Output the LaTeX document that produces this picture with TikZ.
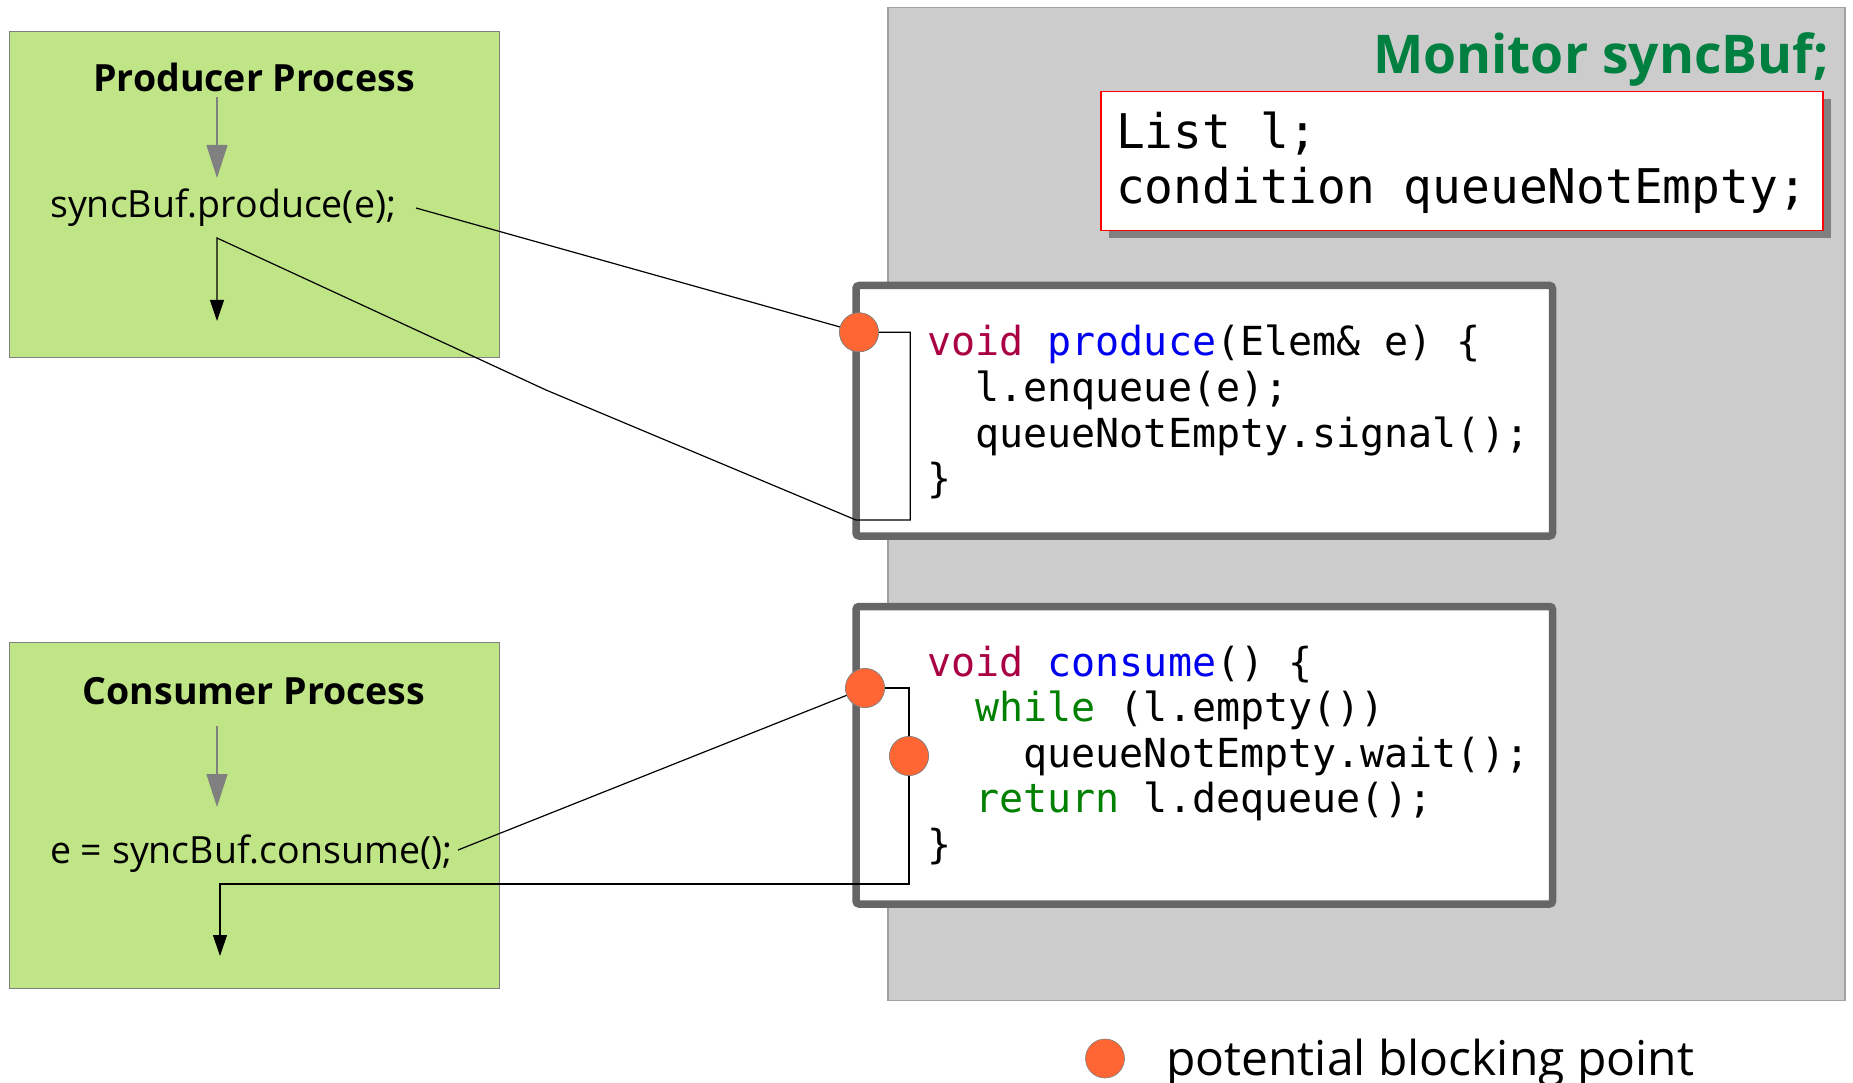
\documentclass[tikz,border=0pt]{standalone}
\usepackage{fontspec}
\setmainfont{Open Sans}
\setmonofont{DejaVu Sans Mono}
\usetikzlibrary{arrows.meta}
\definecolor{procgreen}{RGB}{192,229,134}
\definecolor{mongray}{RGB}{204,204,204}
\definecolor{monborder}{RGB}{160,160,160}
\definecolor{boxborder}{RGB}{102,102,102}
\definecolor{blockorange}{RGB}{255,102,51}
\definecolor{titlegreen}{RGB}{0,128,64}
\definecolor{kwred}{RGB}{170,0,68}
\definecolor{fnblue}{RGB}{0,0,240}
\definecolor{kwgreen}{RGB}{0,128,0}
\definecolor{shadowgray}{RGB}{128,128,128}
\tikzset{
  procbox/.style={draw=shadowgray, line width=1pt, fill=procgreen, inner sep=0},
  codebox/.style={draw=boxborder, line width=7.5pt, rounded corners=3pt, fill=white, inner sep=0},
  codeline/.style={anchor=base west, inner sep=0, font=\ttfamily\fontsize{40}{46}\selectfont},
  varline/.style={anchor=base west, inner sep=0, font=\ttfamily\fontsize{47.8}{54}\selectfont},
  proctitle/.style={anchor=base, inner sep=0, font=\bfseries\fontsize{37.5}{42}\selectfont},
  proccall/.style={anchor=base west, inner sep=0, font=\fontsize{37.5}{42}\selectfont},
  blockpt/.style={circle, fill=blockorange, draw=shadowgray, line width=0.6pt, minimum size=39pt, inner sep=0},
  grayflow/.style={draw=shadowgray, line width=1.2pt, -{Triangle[length=33pt,width=21pt]}},
  blackflow/.style={draw=black, line width=1.2pt, -{Triangle[length=21pt,width=14pt]}},
  conn/.style={draw=black, line width=1.2pt},
}
\begin{document}
\begin{tikzpicture}[x=1pt,y=-1pt]
\useasboundingbox (0,0) rectangle (1853,1083);
% monitor
\node[draw=monborder, line width=1.2pt, fill=mongray, minimum width=957, minimum height=993, inner sep=0] (monitor) at (1366.5,504.3) {};
\node[anchor=base east, inner sep=0, text=titlegreen, font=\bfseries\fontsize{53.4}{60}\selectfont] (montitle) at (1829,74) {Monitor syncBuf;};
% variable box
\node[fill=shadowgray, minimum width=722, minimum height=139, inner sep=0] (varshadow) at (1470,169) {};
\node[draw=red, line width=1.2pt, fill=white, minimum width=722, minimum height=139, inner sep=0] (varbox) at (1462,161) {};
\node[varline] (var1) at (1116,149) {List l;};
\node[varline] (var2) at (1116,203.2) {condition queueNotEmpty;};
% code boxes
\node[codebox, minimum width=696.5, minimum height=250.5] (prodcode) at (1204.25,410.75) {};
\node[codebox, minimum width=696.5, minimum height=297.5] (conscode) at (1204.25,755.25) {};
\node[codeline] (p1) at (927,355.6) {\textcolor{kwred}{void} \textcolor{fnblue}{produce}(Elem\& e) \{};
\node[codeline] (p2) at (927,401.3) {\phantom{xx}l.enqueue(e);};
\node[codeline] (p3) at (927,447) {\phantom{xx}queueNotEmpty.signal();};
\node[codeline] (p4) at (927,492.7) {\}};
\node[codeline] (c1) at (927,676) {\textcolor{kwred}{void} \textcolor{fnblue}{consume}() \{};
\node[codeline] (c2) at (927,721.5) {\phantom{xx}\textcolor{kwgreen}{while} (l.empty())};
\node[codeline] (c3) at (927,767) {\phantom{xxxx}queueNotEmpty.wait();};
\node[codeline] (c4) at (927,812.5) {\phantom{xx}\textcolor{kwgreen}{return} l.dequeue();};
\node[codeline] (c5) at (927,858) {\}};
% process boxes
\node[procbox, minimum width=490, minimum height=326] (prodbox) at (254.5,194.5) {};
\node[procbox, minimum width=490, minimum height=346] (consbox) at (254.5,815.5) {};
\node[proctitle] (prodtitle) at (254,91.4) {Producer Process};
\node[proctitle] (constitle) at (254,704) {Consumer Process};
\node[proccall] (prodcall) at (50,218) {syncBuf.produce(e);};
\node[proccall] (conscall) at (50,863) {e = syncBuf.consume();};
% gray flow arrows
\coordinate (pg1) at (217,97);
\coordinate (pg2) at (217,178);
\coordinate (cg1) at (217,726);
\coordinate (cg2) at (217,807);
\draw[grayflow] (pg1) -- (pg2);
\draw[grayflow] (cg1) -- (cg2);
% blocking points
\node[blockpt] (pb) at (859,332.3) {};
\node[blockpt] (cb1) at (865,688) {};
\node[blockpt] (cb2) at (909,756) {};
% producer connectors
\coordinate (ps) at (416,208);
\coordinate (pr1) at (910.3,332.3);
\coordinate (pr2) at (910.3,520);
\coordinate (pr3) at (856,520);
\coordinate (pbend) at (546,390);
\coordinate (pj) at (217,238);
\coordinate (pe) at (217,321);
\draw[conn] (ps) -- (pb);
\draw[blackflow] (pb.east) -- (pr1) -- (pr2) -- (pr3) -- (pbend) -- (pj) -- (pe);
% consumer connectors
\coordinate (cs) at (458,850);
\coordinate (cr1) at (909,688);
\coordinate (cr2) at (909,884);
\coordinate (cj) at (220,884);
\coordinate (ce) at (220,956);
\draw[conn] (cs) -- (cb1);
\draw[blackflow] (cb1.east) -- (cr1) -- (cr2) -- (cj) -- (ce);
% blocking points on top of connectors
\node[blockpt] at (pb) {};
\node[blockpt] at (cb1) {};
\node[blockpt] at (cb2) {};
% legend
\node[blockpt] (legpt) at (1105,1058.5) {};
\node[anchor=base west, inner sep=0, font=\fontsize{48}{54}\selectfont] (legtext) at (1166,1075) {potential blocking point};
\end{tikzpicture}
\end{document}
